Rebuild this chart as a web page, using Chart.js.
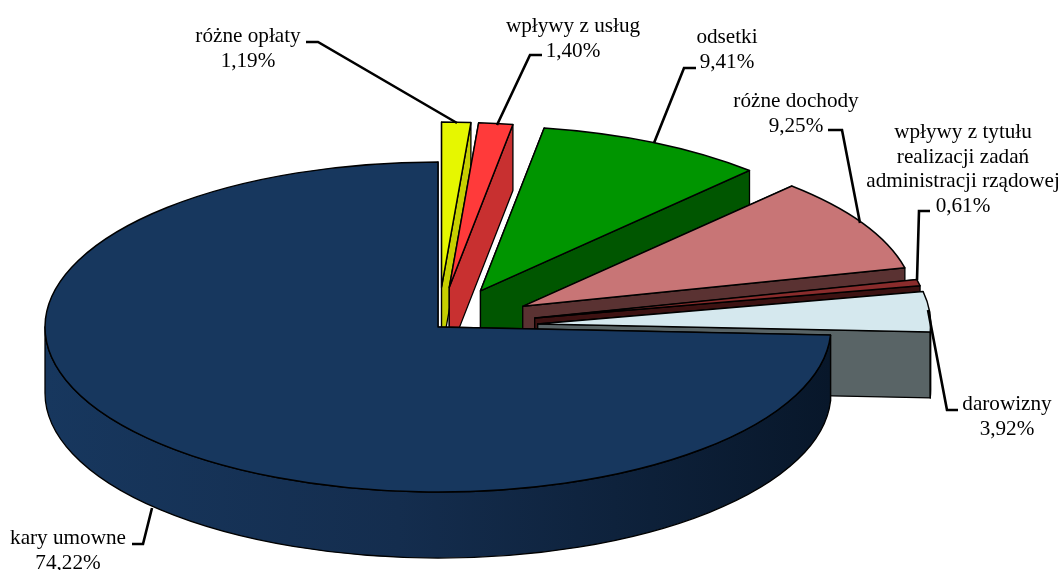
<!DOCTYPE html>
<html lang="pl">
<head>
    <meta charset="UTF-8">
    <title>Struktura dochodów</title>
    <script src="https://cdn.jsdelivr.net/npm/chart.js@4/dist/chart.umd.js"></script>
    <style>
        html, body { margin: 0; padding: 0; background: #fff; overflow: hidden; }
        canvas { display: block; }
    </style>
</head>
<body>
    <canvas id="pie" width="1064" height="570"></canvas>

    <script>
// data, clockwise from 12 o'clock
const categories = [
    ['różne opłaty'],
    ['wpływy z usług'],
    ['odsetki'],
    ['różne dochody'],
    ['wpływy z tytułu', 'realizacji zadań', 'administracji rządowej'],
    ['darowizny'],
    ['kary umowne']
];
const shares = [1.19, 1.40, 9.41, 9.25, 0.61, 3.92, 74.22];

// styles
const topColors = ['#e6f700', '#ff3a3a', '#009500', '#c87576', '#8a2c2c', '#d5e8ee', '#17375e'];
const wallColors = ['#c6d000', '#c83030', '#005600', '#5a3232', '#3d1212', '#596466', '#0f2742'];
const explode = [95, 95, 96, 98, 99, 100, 0];

// label centre x, first line baseline y
const labelPos = [[248, 42], [573, 32], [727, 43], [796, 107], [963, 138], [1007, 410], [68, 544]];
const leaders = [
    [[306, 42], [318, 42], [457, 123]],
    [[542, 55], [530, 55], [497, 125]],
    [[696, 68], [684, 68], [654, 143]],
    [[828, 130], [842, 130], [860, 223]],
    [[930, 211], [919, 211], [917, 280]],
    [[958, 410], [947, 410], [928, 310]],
    [[132, 544], [143, 544], [152, 508]]
];

const SQUASH = 0.42;
const DEPTH = 66;

function percent(v) {
    return v.toFixed(2).replace('.', ',') + '%';
}

function strokeFill(ctx, fill) {
    ctx.fillStyle = fill;
    ctx.fill();
    ctx.lineWidth = 1.3;
    ctx.strokeStyle = '#000';
    ctx.lineJoin = 'round';
    ctx.stroke();
}

// one slice: cut faces, rim, then the library's own arc on top
function drawSlice(ctx, arc, i) {
    const a0 = arc.startAngle, a1 = arc.endAngle, R = arc.outerRadius;
    const mid = (a0 + a1) / 2;
    const dx = Math.cos(mid) * explode[i];
    const dy = Math.sin(mid) * explode[i] * SQUASH;
    const cx = arc.x + dx, cy = arc.y + dy;
    const rim = a => [cx + R * Math.cos(a), cy + R * Math.sin(a) * SQUASH];

    [a0, a1].forEach(a => {
        const p = rim(a);
        ctx.beginPath();
        ctx.moveTo(cx, cy);
        ctx.lineTo(p[0], p[1]);
        ctx.lineTo(p[0], p[1] + DEPTH);
        ctx.lineTo(cx, cy + DEPTH);
        ctx.closePath();
        strokeFill(ctx, wallColors[i]);
    });

    // rim, front half only
    const from = Math.max(a0, 0), to = Math.min(a1, Math.PI);
    if (to > from) {
        ctx.beginPath();
        ctx.ellipse(cx, cy, R, R * SQUASH, 0, from, to);
        ctx.ellipse(cx, cy + DEPTH, R, R * SQUASH, 0, to, from, true);
        ctx.closePath();
        let fill = wallColors[i];
        if (explode[i] === 0) {
            fill = ctx.createLinearGradient(cx - R, 0, cx + R, 0);
            fill.addColorStop(0, '#17375e');
            fill.addColorStop(0.45, '#142d4e');
            fill.addColorStop(1, '#08172a');
        }
        strokeFill(ctx, fill);
    }

    ctx.save();
    ctx.translate(cx, cy);
    ctx.scale(1, SQUASH);
    ctx.translate(-arc.x, -arc.y);
    arc.draw(ctx);
    ctx.restore();

    ctx.beginPath();
    ctx.moveTo(cx, cy);
    ctx.ellipse(cx, cy, R, R * SQUASH, 0, a0, a1);
    ctx.closePath();
    ctx.lineWidth = 1.5;
    ctx.strokeStyle = '#000';
    ctx.stroke();
}

const pie3d = {
    id: 'pie3d',
    beforeDatasetDraw(chart, args) {
        const ctx = chart.ctx;
        args.meta.data.forEach((arc, i) => drawSlice(ctx, arc, i));
        return false;
    },
    afterDraw(chart) {
        const ctx = chart.ctx;
        ctx.save();
        ctx.strokeStyle = '#000';
        ctx.lineWidth = 2.6;
        ctx.lineJoin = 'miter';
        leaders.forEach(line => {
            ctx.beginPath();
            line.forEach((p, n) => n ? ctx.lineTo(p[0], p[1]) : ctx.moveTo(p[0], p[1]));
            ctx.stroke();
        });
        ctx.fillStyle = '#000';
        ctx.font = '21.2px "Liberation Serif"';
        ctx.textAlign = 'center';
        ctx.textBaseline = 'alphabetic';
        categories.forEach((lines, i) => {
            const all = lines.concat(percent(shares[i]));
            all.forEach((t, n) => ctx.fillText(t, labelPos[i][0], labelPos[i][1] + n * 24.5));
        });
        ctx.restore();
    }
};

new Chart(document.getElementById('pie'), {
    type: 'pie',
    data: {
        labels: categories.map(c => c.join(' ')),
        datasets: [{
            data: shares,
            backgroundColor: topColors,
            borderWidth: 0
        }]
    },
    options: {
        responsive: false,
        animation: false,
        radius: 393,
        layout: { padding: { top: 84, right: 188 } },
        plugins: { legend: { display: false }, tooltip: { enabled: false } }
    },
    plugins: [pie3d]
});
    </script>
</body>
</html>
